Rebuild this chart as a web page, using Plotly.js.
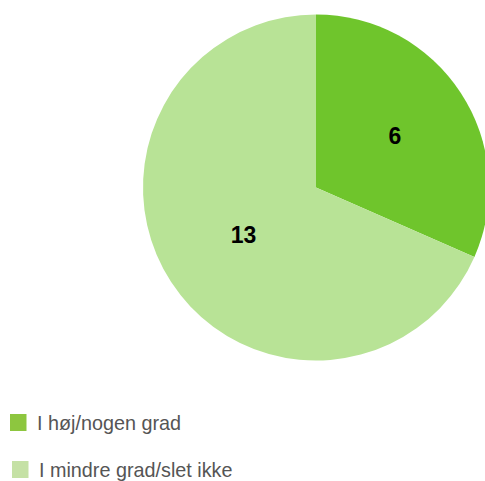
<!DOCTYPE html>
<html>
<head>
<meta charset="utf-8">
<script src="https://cdn.plot.ly/plotly-3.0.1.min.js"></script>
<style>
html,body{margin:0;padding:0;overflow:hidden;background:#fff;width:485px;height:481px;}
#chart{width:500px;height:481px;}
</style>
</head>
<body>
<div id="chart"></div>
<script>
const labels = ["I høj/nogen grad", "I mindre grad/slet ikke"];
const values = [6, 13];
const sliceColors = ["#6FC52C", "#B8E396"];
const legendColors = ["#8DC63F", "#C5E1A5"];

const W = 500, H = 481;
const cx = 316, cy = 187.5, r = 173;

const trace = {
  type: "pie",
  labels: labels,
  values: values,
  sort: false,
  direction: "clockwise",
  rotation: 0,
  marker: {colors: sliceColors, line: {width: 0}},
  textinfo: "value",
  textposition: "inside",
  insidetextorientation: "horizontal",
  textfont: {family: "Liberation Sans, Arial, sans-serif", size: 23, color: "#000", weight: "bold"},
  hoverinfo: "label+value",
  domain: {x: [(cx - r) / W, (cx + r) / W], y: [1 - (cy + r) / H, 1 - (cy - r) / H]},
  showlegend: false
};

const shapes = [];
const annotations = [];
const legendY = [422.5, 469.5];
const legendX = [10, 12];
labels.forEach((lab, i) => {
  shapes.push({
    type: "rect", xref: "paper", yref: "paper",
    x0: legendX[i] / W, x1: (legendX[i] + 16.5) / W,
    y0: 1 - (legendY[i] + 8.5) / H, y1: 1 - (legendY[i] - 8.5) / H,
    fillcolor: legendColors[i], line: {width: 0}
  });
  annotations.push({
    xref: "paper", yref: "paper",
    x: (legendX[i] + 25) / W, y: 1 - legendY[i] / H,
    xanchor: "left", yanchor: "middle",
    text: lab, showarrow: false,
    font: {family: "Liberation Sans, Arial, sans-serif", size: 19.8, color: "#555555"}
  });
});

const layout = {
  width: W, height: H,
  margin: {l: 0, r: 0, t: 0, b: 0},
  paper_bgcolor: "#fff",
  showlegend: false,
  shapes: shapes,
  annotations: annotations
};

Plotly.newPlot("chart", [trace], layout, {displayModeBar: false, staticPlot: true});
</script>
</body>
</html>
